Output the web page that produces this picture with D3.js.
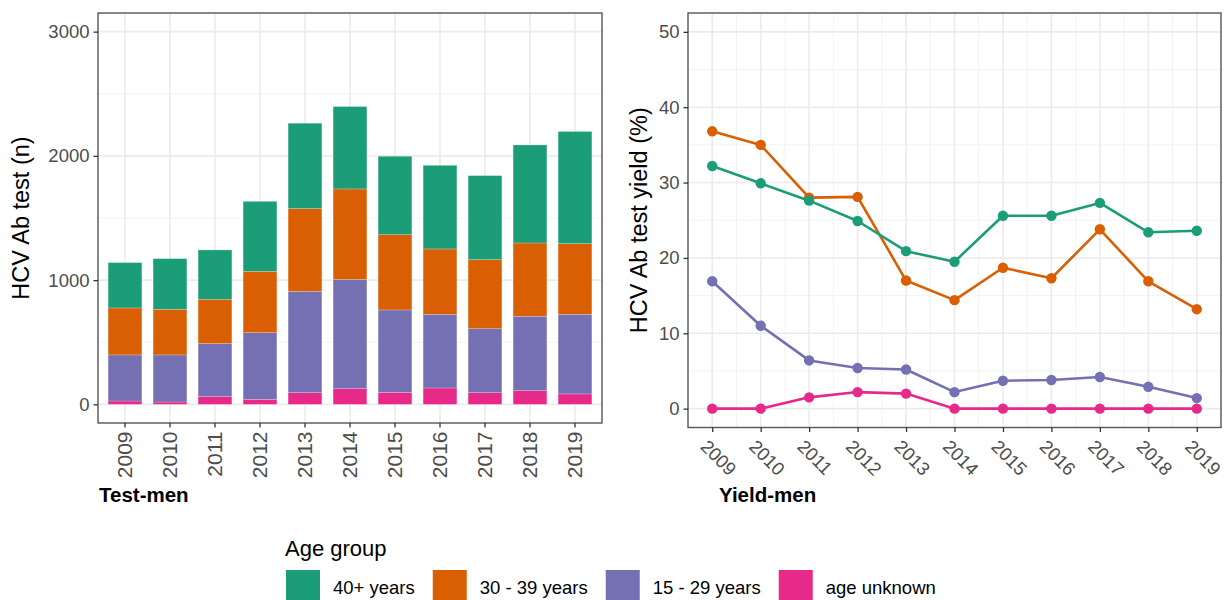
<!DOCTYPE html>
<html>
<head>
<meta charset="utf-8">
<script src="https://cdn.jsdelivr.net/npm/d3@7"></script>
<style>
  html, body { margin: 0; padding: 0; background: #fff; }
  svg { display: block; font-family: "Liberation Sans", Arial, sans-serif; }
</style>
</head>
<body>
<svg id="chart" width="1227" height="600"></svg>
<script>
// ---------- data ----------
const years = [2009, 2010, 2011, 2012, 2013, 2014, 2015, 2016, 2017, 2018, 2019];
const groups = ["40+ years", "30 - 39 years", "15 - 29 years", "age unknown"];
const groupColors = ["#1B9E77", "#D95F02", "#7570B3", "#E7298A"];

// Test-men: number of HCV Ab tests per age group (stacked)
const testUnknown = [27, 19, 62, 40, 94, 126, 97, 132, 94, 110, 84];
const test15to29  = [371, 379, 427, 537, 816, 880, 663, 593, 515, 599, 641];
const test30to39  = [378, 367, 357, 494, 666, 728, 606, 526, 556, 590, 569];
const test40plus  = [365, 408, 397, 563, 687, 663, 631, 673, 676, 789, 902];

// Yield-men: HCV Ab test yield (%)
const yield40plus  = [32.2, 29.9, 27.6, 24.9, 20.9, 19.5, 25.6, 25.6, 27.3, 23.4, 23.6];
const yield30to39  = [36.8, 35.0, 28.0, 28.1, 17.0, 14.4, 18.7, 17.3, 23.8, 16.9, 13.2];
const yield15to29  = [16.9, 11.0, 6.4, 5.4, 5.2, 2.2, 3.7, 3.8, 4.2, 2.9, 1.4];
const yieldUnknown = [0, 0, 1.5, 2.2, 2.0, 0, 0, 0, 0, 0, 0];

const leftTicks = [0, 1000, 2000, 3000];
const leftMinor = [500, 1500, 2500];
const rightTicks = [0, 10, 20, 30, 40, 50];
const rightMinor = [5, 15, 25, 35, 45];

// ---------- setup ----------
const svg = d3.select("#chart");
const color = d3.scaleOrdinal().domain(groups).range(groupColors);
const gridMajor = "#EBEBEB", gridMinor = "#F3F3F3", tickCol = "#4D4D4D", borderCol = "#555555";

// ===== LEFT PANEL =====
const L = {x0: 98, x1: 602, y0: 13, y1: 423};
const xL = d3.scaleBand().domain(years).range([L.x0, L.x1]).paddingInner(0.25).paddingOuter(0.225);
const yL = d3.scaleLinear().domain([-150, 3150]).range([L.y1, L.y0]);

const gL = svg.append("g");
// grid
gL.selectAll(".hmin").data(leftMinor).join("line")
  .attr("x1", L.x0).attr("x2", L.x1).attr("y1", d => yL(d)).attr("y2", d => yL(d))
  .attr("stroke", gridMinor).attr("stroke-width", 1);
gL.selectAll(".hmaj").data(leftTicks).join("line")
  .attr("x1", L.x0).attr("x2", L.x1).attr("y1", d => yL(d)).attr("y2", d => yL(d))
  .attr("stroke", gridMajor).attr("stroke-width", 1.6);
gL.selectAll(".vmaj").data(years).join("line")
  .attr("y1", L.y0).attr("y2", L.y1)
  .attr("x1", d => xL(d) + xL.bandwidth() / 2).attr("x2", d => xL(d) + xL.bandwidth() / 2)
  .attr("stroke", gridMajor).attr("stroke-width", 1.6);

// stacked bars
const rows = years.map((y, i) => ({
  year: y,
  "age unknown": testUnknown[i],
  "15 - 29 years": test15to29[i],
  "30 - 39 years": test30to39[i],
  "40+ years": test40plus[i]
}));
const stackKeys = ["age unknown", "15 - 29 years", "30 - 39 years", "40+ years"];
const stacked = d3.stack().keys(stackKeys)(rows);
gL.selectAll(".layer").data(stacked).join("g")
  .attr("fill", d => color(d.key))
  .selectAll("rect").data(d => d).join("rect")
  .attr("x", d => xL(d.data.year))
  .attr("width", xL.bandwidth())
  .attr("y", d => yL(d[1]))
  .attr("height", d => yL(d[0]) - yL(d[1]))
  .attr("stroke", "#ffffff").attr("stroke-opacity", 0.35).attr("stroke-width", 0.6);

// border
gL.append("rect").attr("x", L.x0).attr("y", L.y0).attr("width", L.x1 - L.x0).attr("height", L.y1 - L.y0)
  .attr("fill", "none").attr("stroke", borderCol).attr("stroke-width", 1.4);

// axes
const axLY = gL.append("g").attr("transform", `translate(${L.x0},0)`)
  .call(d3.axisLeft(yL).tickValues(leftTicks).tickSize(4.5).tickPadding(4).tickFormat(d3.format("d")));
axLY.select(".domain").remove();
axLY.selectAll("line").attr("stroke", "#333").attr("stroke-width", 1.3);
axLY.selectAll("text").attr("fill", tickCol).attr("font-size", 18.5).attr("font-family", "Liberation Sans, Arial, sans-serif");

const axLX = gL.append("g").attr("transform", `translate(0,${L.y1})`)
  .call(d3.axisBottom(xL).tickSize(4.5).tickPadding(4));
axLX.select(".domain").remove();
axLX.selectAll("line").attr("stroke", "#333").attr("stroke-width", 1.3);
axLX.selectAll("text")
  .attr("fill", tickCol).attr("font-size", 21).attr("font-family", "Liberation Sans, Arial, sans-serif")
  .attr("text-anchor", "end")
  .attr("transform", "rotate(-90)")
  .attr("x", -8.5).attr("y", 0).attr("dy", "0.35em");

// titles
svg.append("text").attr("transform", `translate(29,${(L.y0 + L.y1) / 2}) rotate(-90)`)
  .attr("text-anchor", "middle").attr("font-size", 23.5).attr("fill", "#000").text("HCV Ab test (n)");
svg.append("text").attr("x", 99).attr("y", 502).attr("font-size", 20.5).attr("font-weight", "bold")
  .attr("fill", "#000").text("Test-men");

// ===== RIGHT PANEL =====
const R = {x0: 688, x1: 1221, y0: 13, y1: 427.5};
const xR = d3.scaleLinear().domain([2008.5, 2019.5]).range([R.x0, R.x1]);
const yR = d3.scaleLinear().domain([-2.5, 52.5]).range([R.y1, R.y0]);
const xMinor = years.slice(0, -1).map(y => y + 0.5);

const gR = svg.append("g");
gR.selectAll(".hmin").data(rightMinor).join("line")
  .attr("x1", R.x0).attr("x2", R.x1).attr("y1", d => yR(d)).attr("y2", d => yR(d))
  .attr("stroke", gridMinor).attr("stroke-width", 1);
gR.selectAll(".vmin").data(xMinor).join("line")
  .attr("y1", R.y0).attr("y2", R.y1).attr("x1", d => xR(d)).attr("x2", d => xR(d))
  .attr("stroke", gridMinor).attr("stroke-width", 1);
gR.selectAll(".hmaj").data(rightTicks).join("line")
  .attr("x1", R.x0).attr("x2", R.x1).attr("y1", d => yR(d)).attr("y2", d => yR(d))
  .attr("stroke", gridMajor).attr("stroke-width", 1.6);
gR.selectAll(".vmaj").data(years).join("line")
  .attr("y1", R.y0).attr("y2", R.y1).attr("x1", d => xR(d)).attr("x2", d => xR(d))
  .attr("stroke", gridMajor).attr("stroke-width", 1.6);

const series = [
  {key: "40+ years", values: yield40plus},
  {key: "30 - 39 years", values: yield30to39},
  {key: "15 - 29 years", values: yield15to29},
  {key: "age unknown", values: yieldUnknown}
];
const line = d3.line().x((d, i) => xR(years[i])).y(d => yR(d));
const drawOrder = [series[3], series[2], series[1], series[0]];
drawOrder.forEach(s => {
  const g = gR.append("g");
  g.append("path").datum(s.values).attr("d", line)
    .attr("fill", "none").attr("stroke", color(s.key)).attr("stroke-width", 2.6)
    .attr("stroke-linejoin", "round");
  g.selectAll("circle").data(s.values).join("circle")
    .attr("cx", (d, i) => xR(years[i])).attr("cy", d => yR(d)).attr("r", 5.2)
    .attr("fill", color(s.key));
});

gR.append("rect").attr("x", R.x0).attr("y", R.y0).attr("width", R.x1 - R.x0).attr("height", R.y1 - R.y0)
  .attr("fill", "none").attr("stroke", borderCol).attr("stroke-width", 1.4);

const axRY = gR.append("g").attr("transform", `translate(${R.x0},0)`)
  .call(d3.axisLeft(yR).tickValues(rightTicks).tickSize(4.5).tickPadding(4));
axRY.select(".domain").remove();
axRY.selectAll("line").attr("stroke", "#333").attr("stroke-width", 1.3);
axRY.selectAll("text").attr("fill", tickCol).attr("font-size", 18.5).attr("font-family", "Liberation Sans, Arial, sans-serif");

const axRX = gR.append("g").attr("transform", `translate(0,${R.y1})`)
  .call(d3.axisBottom(xR).tickValues(years).tickFormat(d3.format("d")).tickSize(4.5).tickPadding(4));
axRX.select(".domain").remove();
axRX.selectAll("line").attr("stroke", "#333").attr("stroke-width", 1.3);
axRX.selectAll("text")
  .attr("fill", tickCol).attr("font-size", 18.5).attr("font-family", "Liberation Sans, Arial, sans-serif")
  .attr("text-anchor", "start")
  .attr("transform", "translate(-4,11) rotate(45)")
  .attr("x", 0).attr("y", 0).attr("dy", "0.71em");

svg.append("text").attr("transform", `translate(647,${(R.y0 + R.y1) / 2}) rotate(-90)`)
  .attr("text-anchor", "middle").attr("font-size", 23.5).attr("fill", "#000").text("HCV Ab test yield (%)");
svg.append("text").attr("x", 719).attr("y", 502).attr("font-size", 20.5).attr("font-weight", "bold")
  .attr("fill", "#000").text("Yield-men");

// ===== LEGEND =====
const leg = svg.append("g");
leg.append("text").attr("x", 285).attr("y", 556).attr("font-size", 22).attr("fill", "#000").text("Age group");
let lx = 286;
groups.forEach(gname => {
  leg.append("rect").attr("x", lx).attr("y", 570).attr("width", 34).attr("height", 30).attr("fill", color(gname));
  const t = leg.append("text").attr("x", lx + 47).attr("y", 594).attr("font-size", 18.5).attr("fill", "#000").text(gname);
  const w = t.node().getComputedTextLength();
  lx = lx + 47 + w + 18;
});
</script>
</body>
</html>
